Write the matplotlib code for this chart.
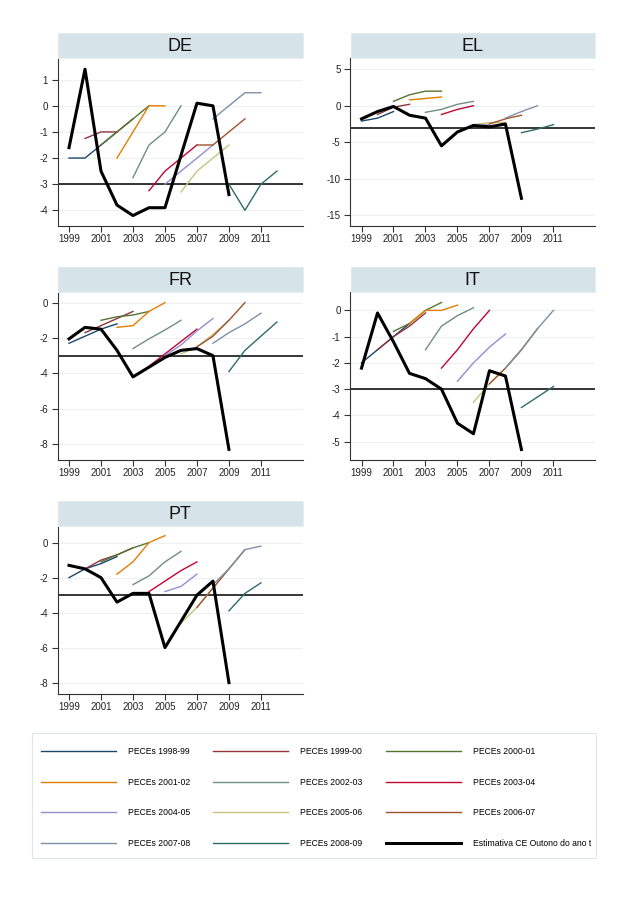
import numpy as np
import matplotlib.pyplot as plt
from matplotlib.patches import Rectangle

nan = np.nan

programmes = ["PECEs 1998-99", "PECEs 1999-00", "PECEs 2000-01", "PECEs 2001-02",
              "PECEs 2002-03", "PECEs 2003-04", "PECEs 2004-05", "PECEs 2005-06",
              "PECEs 2006-07", "PECEs 2007-08", "PECEs 2008-09"]
est_label = "Estimativa CE Outono do ano t"
start_years = list(range(1999, 2010))   # first year of each programme
est_years = list(range(1999, 2010))

# Stata s2color palette
colors = ["#1a476f", "#90353b", "#55752f", "#e37e00", "#6e8e84", "#c10534",
          "#938dd2", "#cac27e", "#a0522d", "#7b92a8", "#2d6d66"]

de_est = [-1.6, 1.4, -2.5, -3.8, -4.2, -3.9, -3.9, -1.9, 0.1, 0.0, -3.4]
de_peces = [
    [-2.0, -2.0, -1.5, -1.0],
    [-1.25, -1.0, -1.0, -0.5],
    [-1.5, -1.0, -0.5, 0.0],
    [-2.0, -1.0, 0.0, 0.0],
    [-2.75, -1.5, -1.0, 0.0],
    [-3.25, -2.5, -2.0, -1.5],
    [-3.0, -2.5, -2.0, -1.5],
    [-3.3, -2.5, -2.0, -1.5],
    [-1.5, -1.5, -1.0, -0.5],
    [-0.5, 0.0, 0.5, 0.5],
    [-3.0, -4.0, -3.0, -2.5],
]

el_est = [-1.8, -0.8, -0.1, -1.3, -1.7, -5.5, -3.6, -2.7, -2.9, -2.5, -12.7]
el_peces = [
    [-2.1, -1.7, -0.8, nan],
    [-1.2, -0.2, 0.2, nan],
    [0.6, 1.5, 2.0, 2.0],
    [0.8, 1.0, 1.2, nan],
    [-0.9, -0.5, 0.2, 0.6],
    [-1.2, -0.5, 0.0, nan],
    [-3.6, -2.7, -2.6, nan],
    [-2.6, -2.3, -2.3, nan],
    [-2.5, -1.8, -1.3, nan],
    [-1.7, -0.8, 0.0, nan],
    [-3.7, -3.2, -2.6, nan],
]

fr_est = [-2.05, -1.4, -1.5, -2.7, -4.2, -3.65, -3.1, -2.7, -2.6, -3.0, -8.3]
fr_peces = [
    [-2.3, -1.9, -1.5, -1.2],
    [-1.7, -1.3, -0.9, -0.5],
    [-1.0, -0.8, -0.7, -0.5],
    [-1.4, -1.3, -0.5, 0.0],
    [-2.6, -2.05, -1.55, -1.0],
    [-3.6, -2.9, -2.2, -1.5],
    [-3.0, -2.4, -1.6, -0.9],
    [-2.9, -2.5, -1.8, -1.0],
    [-2.5, -1.9, -1.0, 0.0],
    [-2.3, -1.7, -1.2, -0.6],
    [-3.9, -2.7, -1.9, -1.1],
]

it_est = [-2.2, -0.1, -1.2, -2.4, -2.6, -3.0, -4.3, -4.7, -2.3, -2.5, -5.3]
it_peces = [
    [-2.0, -1.5, -1.0, -0.5],
    [-1.5, -1.0, -0.6, -0.1],
    [-0.8, -0.5, 0.0, 0.3],
    [-0.5, 0.0, 0.0, 0.2],
    [-1.5, -0.6, -0.2, 0.1],
    [-2.2, -1.5, -0.7, 0.0],
    [-2.7, -2.0, -1.4, -0.9],
    [-3.5, -2.8, -2.2, -1.5],
    [-2.8, -2.2, -1.5, -0.7],
    [-2.2, -1.5, -0.7, 0.0],
    [-3.7, -3.3, -2.9, nan],
]

pt_est = [-1.3, -1.5, -2.0, -3.4, -2.9, -2.9, -6.0, -4.5, -3.0, -2.2, -8.0]
pt_peces = [
    [-2.0, -1.5, -1.2, -0.8],
    [-1.5, -1.0, -0.7, -0.3],
    [-1.1, -0.7, -0.3, 0.0],
    [-1.8, -1.1, 0.0, 0.4],
    [-2.4, -1.9, -1.1, -0.5],
    [-2.8, -2.2, -1.6, -1.1],
    [-2.8, -2.5, -1.8, nan],
    [-4.6, -3.7, -2.6, -1.5],
    [-3.7, -2.6, -1.5, -0.4],
    [-2.4, -1.5, -0.4, -0.2],
    [-3.9, -2.9, -2.3, nan],
]

plt.rcParams['font.family'] = ['Liberation Sans', 'DejaVu Sans']
plt.rcParams['axes.unicode_minus'] = False

W, H = 624, 902
fig = plt.figure(figsize=(W / 100, H / 100), dpi=100)

# (name, est, peces, yticks, ylim, axes left px, axes top px)
panels = [
    ("DE", de_est, de_peces, [-4, -3, -2, -1, 0, 1], (-4.6, 1.83), 57.5, 58),
    ("EL", el_est, el_peces, [-15, -10, -5, 0, 5], (-16.5, 6.55), 350, 58),
    ("FR", fr_est, fr_peces, [-8, -6, -4, -2, 0], (-8.9, 0.6), 57.5, 292),
    ("IT", it_est, it_peces, [-5, -4, -3, -2, -1, 0], (-5.7, 0.7), 350, 292),
    ("PT", pt_est, pt_peces, [-8, -6, -4, -2, 0], (-8.65, 0.95), 57.5, 526),
]
ax_w, ax_h, band_h = 245, 168, 25

handles = []
for name, est, peces, yticks, ylim, left, top in panels:
    ax = fig.add_axes([left / W, 1 - (top + ax_h) / H, ax_w / W, ax_h / H])
    ax.yaxis.grid(True, color="#edf1f3", lw=0.8)
    ax.set_axisbelow(True)
    ax.axhline(-3, color="black", lw=1.1, zorder=1.5)
    hs = []
    for i, vals in enumerate(peces):
        yrs = np.arange(start_years[i], start_years[i] + len(vals))
        h, = ax.plot(yrs, vals, color=colors[i], lw=1.0, label=programmes[i], zorder=2)
        hs.append(h)
    h, = ax.plot(est_years, est, color="black", lw=2.2, label=est_label, zorder=3)
    hs.append(h)
    if not handles:
        handles = hs

    ax.set_xlim(1998.28, 2013.6)
    ax.set_ylim(*ylim)
    ax.set_xticks(range(1999, 2012, 2))
    ax.set_yticks(yticks)
    for s in ["top", "right"]:
        ax.spines[s].set_visible(False)
    for s in ["left", "bottom"]:
        ax.spines[s].set_color("#333333")
        ax.spines[s].set_linewidth(0.8)
    ax.tick_params(direction="out", length=4.3, width=0.8, color="#333333",
                   labelsize=7, labelcolor="#222222")
    ax.tick_params(axis="x", pad=1.8)
    ax.tick_params(axis="y", pad=2.5)

    band = fig.add_axes([(left + 0.5) / W, 1 - top / H, (ax_w - 0.5) / W, band_h / H])
    band.set_facecolor("#d6e3e9")
    band.set_xticks([])
    band.set_yticks([])
    for s in band.spines.values():
        s.set_color("#e3ebef")
        s.set_linewidth(0.6)
    band.text(0.5, 0.45, name, ha="center", va="center", fontsize=13, color="#111111",
              transform=band.transAxes)

# legend, filled row by row
order = [i for c in range(3) for i in range(c, 12, 3)]
fig.legend([handles[i] for i in order], [handles[i].get_label() for i in order],
           ncol=3, loc="center left", bbox_to_anchor=(41 / W, 1 - 797.5 / H),
           frameon=False, fontsize=6.2, handlelength=8.7, handletextpad=1.4,
           columnspacing=2.7, labelspacing=2.5, borderpad=0, borderaxespad=0)
fig.add_artist(Rectangle((32 / W, 1 - 858 / H), 564 / W, 125 / H, transform=fig.transFigure,
                         fill=False, edgecolor="#dfe6ea", lw=0.8))

fig.savefig("out.png", dpi=100, facecolor="white")
